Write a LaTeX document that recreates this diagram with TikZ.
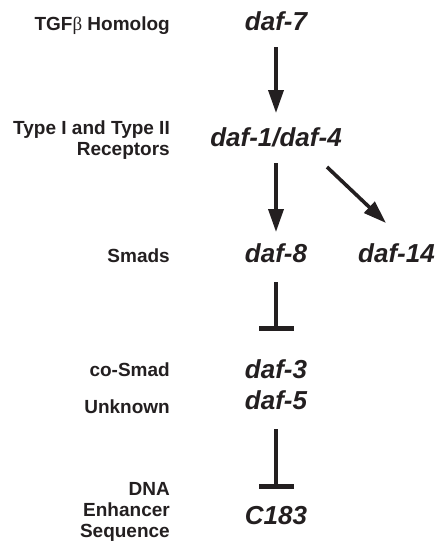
\documentclass[tikz,border=0pt]{standalone}
\usepackage{fontspec}
\setmainfont{Liberation Sans}
\newfontfamily\greekf{Liberation Serif}
\usetikzlibrary{arrows.meta}
\definecolor{ink}{HTML}{231F20}
\begin{document}
\begin{tikzpicture}[x=1pt,y=-1pt,
  lbl/.style={anchor=base east,inner sep=0pt,align=right,text=ink,
    font=\fontsize{19}{21}\selectfont\bfseries},
  gene/.style={anchor=base,inner sep=0pt,text=ink,
    font=\fontsize{26}{31}\selectfont\bfseries\itshape},
  act/.style={draw=ink,line width=3.6pt,-{Triangle[length=23pt,width=15pt]}},
  inh/.style={draw=ink,line width=4.3pt,-{Bar[width=35pt,line width=5pt]}}]
\useasboundingbox (0,0) rectangle (437,542);
% labels (multi-line nodes: base = last line)
\node[lbl] (l1) at (170,30.5) {TGF{\greekf\mdseries β} Homolog};
\node[lbl] (l2) at (170,155) {Type I and Type II\\Receptors};
\node[lbl] (l3) at (170,262) {Smads};
\node[lbl] (l4) at (170,376) {co-Smad};
\node[lbl] (l5) at (170,413) {Unknown};
\node[lbl] (l6) at (170,537) {DNA\\Enhancer\\Sequence};
% genes
\node[gene] (daf7) at (276,30.5) {daf-7};
\node[gene] (daf1) at (276,146) {daf-1/daf-4};
\node[gene] (daf8) at (276,262) {daf-8};
\node[gene] (daf14) at (396.5,262) {daf-14};
\node[gene] (daf3) at (276,378) {daf-3};
\node[gene] (daf5) at (276,409) {daf-5};
\node[gene] (c183) at (276,524) {C183};
% connectors
\draw[act] ([yshift=-16.5pt]daf7.base) -- ([yshift=33pt]daf1.base);
\draw[act] ([yshift=-17pt]daf1.base) -- ([yshift=30pt]daf8.base);
\draw[act] ([xshift=51pt,yshift=-21pt]daf1.base) -- ([xshift=-10.5pt,yshift=39pt]daf14.base);
\draw[inh] ([yshift=-20pt]daf8.base) -- ([yshift=47pt]daf3.base);
\draw[inh] ([yshift=-20pt]daf5.base) -- ([yshift=35pt]c183.base);
\end{tikzpicture}
\end{document}
